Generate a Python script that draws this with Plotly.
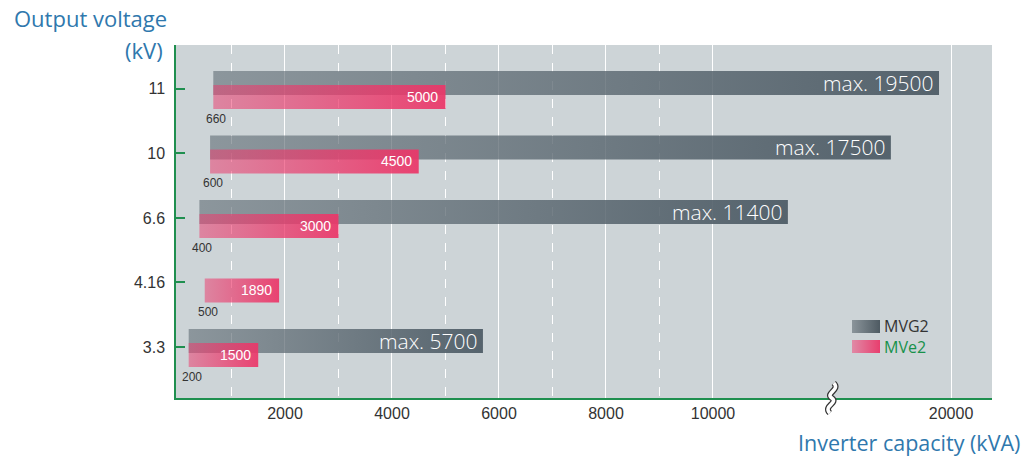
import plotly.graph_objects as go

# ---- data ----
voltages = ["3.3", "4.16", "6.6", "10", "11"]
mvg2_min = [200, None, 400, 600, 660]
mvg2_max = [5700, None, 11400, 17500, 19500]
mve2_min = [200, 500, 400, 600, 660]
mve2_max = [1500, 1890, 3000, 4500, 5000]
x_major = [2000, 4000, 6000, 8000, 10000, 20000]
x_minor = [1000, 3000, 5000, 7000, 9000]
series_names = ["MVG2", "MVe2"]

# broken x axis: values above the break are compressed
BREAK_AT = 12200
RESUME = 15000
SCALE_AFTER = 0.45


def ax(v):
    return v if v <= BREAK_AT else BREAK_AT + (v - RESUME) * SCALE_AFTER


GRAY_TOP, GRAY_BOT = 0.279, -0.093
PINK_TOP, PINK_BOT = 0.062, -0.31

GRAY_SCALE = [[0, "rgba(100,112,120,0.62)"], [1, "rgba(80,94,104,0.96)"]]
PINK_SCALE = [[0, "rgba(235,60,110,0.52)"], [1, "rgba(235,55,105,0.93)"]]

NUM_FONT = "Liberation Sans, Arial, sans-serif"
TXT_FONT = "Open Sans, Noto Sans, sans-serif"
BLUE = "#2f78ad"
GREEN = "#17914a"

fig = go.Figure()
ann = []


def rect(x0, x1, y0, y1, scale, xa="x", ya="y"):
    return go.Scatter(
        x=[x0, x1, x1, x0, x0], y=[y0, y0, y1, y1, y0], mode="none",
        fill="toself", fillgradient=dict(type="horizontal", colorscale=scale),
        showlegend=False, hoverinfo="skip", xaxis=xa, yaxis=ya)


for i, v in enumerate(voltages):
    if mvg2_min[i] is not None:
        a, b = ax(mvg2_min[i]), ax(mvg2_max[i])
        y0, y1 = i + GRAY_BOT, i + GRAY_TOP
        fig.add_trace(rect(a, b, y0, y1, GRAY_SCALE))
        ann.append(dict(x=b, y=(y0 + y1) / 2, xref="x", yref="y",
                        text=f"max. {mvg2_max[i]}", showarrow=False,
                        xanchor="right", yanchor="middle", xshift=-3,
                        font=dict(family=TXT_FONT, size=21, color="white", weight=300)))
    a, b = ax(mve2_min[i]), ax(mve2_max[i])
    y0, y1 = i + PINK_BOT, i + PINK_TOP
    fig.add_trace(rect(a, b, y0, y1, PINK_SCALE))
    ann.append(dict(x=b, y=(y0 + y1) / 2, xref="x", yref="y",
                    text=str(mve2_max[i]), showarrow=False,
                    xanchor="right", yanchor="middle", xshift=-5,
                    font=dict(family=NUM_FONT, size=14, color="white")))
    ann.append(dict(x=a, y=y0, xref="x", yref="y",
                    text=str(mve2_min[i]), showarrow=False,
                    xanchor="center", yanchor="top", xshift=3, yshift=-1,
                    font=dict(family=NUM_FONT, size=12, color="#333333")))

# custom legend on a hidden pixel-like overlay axis (0..816 x 0..353)
LEG_SCALES = [
    [[0, "#8b959b"], [1, "#4e5a62"]],
    [[0, "#e08aa6"], [1, "#e83e6e"]],
]
LEG_COLORS = ["#333333", GREEN]
for k, nm in enumerate(series_names):
    yb = 65 - k * 20
    fig.add_trace(rect(676, 704, yb, yb + 13, LEG_SCALES[k], "x2", "y2"))
leg_text = "<br>".join(
    f'<span style="color:{c}">{nm}</span>' for nm, c in zip(series_names, LEG_COLORS))
ann.append(dict(x=706, y=61.5, xref="x2", yref="y2", text=leg_text,
                showarrow=False, xanchor="left", yanchor="middle", align="left",
                font=dict(family=TXT_FONT, size=16, color="#333333")))

# titles (paper coords relative to plot area 176..992 x 45..398)
ann.append(dict(x=(12 - 176) / 816, y=(398 - 18) / 353, xref="paper", yref="paper",
                text="Output voltage", showarrow=False, xanchor="left",
                yanchor="middle", font=dict(family=TXT_FONT, size=22, color=BLUE)))
ann.append(dict(x=(165 - 176) / 816, y=(398 - 50) / 353, xref="paper", yref="paper",
                text="(kV)", showarrow=False, xanchor="right", yanchor="middle",
                font=dict(family=TXT_FONT, size=22, color=BLUE)))
ann.append(dict(x=(1022 - 176) / 816, y=(398 - 442) / 353, xref="paper", yref="paper",
                text="Inverter capacity (kVA)", showarrow=False, xanchor="right",
                yanchor="middle", font=dict(family=TXT_FONT, size=21.5, color=BLUE)))

# axis break marker
brk = "M -2,-15 C -9,-8 7,-5 0,0 C -7,5 9,8 2,15"
shapes = [
    dict(type="path", xref="x", yref="paper", xsizemode="pixel", ysizemode="pixel",
         xanchor=BREAK_AT + 20, yanchor=0, path=brk,
         line=dict(color="#333333", width=6), layer="above"),
    dict(type="path", xref="x", yref="paper", xsizemode="pixel", ysizemode="pixel",
         xanchor=BREAK_AT + 20, yanchor=0, path=brk,
         line=dict(color="white", width=3.5), layer="above"),
]

fig.update_layout(
    width=1028, height=457,
    margin=dict(l=176, r=36, t=45, b=59),
    paper_bgcolor="white", plot_bgcolor="#cdd4d7",
    annotations=ann, shapes=shapes, showlegend=False,
    xaxis=dict(range=[-37, 15215], showline=True, linecolor="#1f8f4f", linewidth=1.5,
               tickvals=[ax(t) for t in x_major], ticktext=[str(t) for t in x_major],
               showgrid=True, gridcolor="white", gridwidth=1, zeroline=False,
               ticks="", tickfont=dict(family=NUM_FONT, size=16, color="#333333"),
               minor=dict(tickvals=[ax(t) for t in x_minor], showgrid=True,
                          gridcolor="white", gridwidth=1, griddash="dash", ticks=""),
               fixedrange=True),
    yaxis=dict(range=[-0.79, 4.68], showline=True, linecolor="#1f8f4f", linewidth=1.5,
               tickvals=list(range(len(voltages))), ticktext=voltages,
               ticks="inside", ticklen=9, tickcolor="#1f8f4f", tickwidth=1.5,
               showgrid=False, zeroline=False, ticklabelstandoff=6,
               tickfont=dict(family=NUM_FONT, size=16, color="#333333"),
               fixedrange=True),
    xaxis2=dict(overlaying="x", range=[0, 816], visible=False, fixedrange=True),
    yaxis2=dict(overlaying="y", range=[0, 353], visible=False, fixedrange=True),
)

fig.write_html("out.html", config={"displayModeBar": False},
               post_script="document.body.style.margin='0px';")
